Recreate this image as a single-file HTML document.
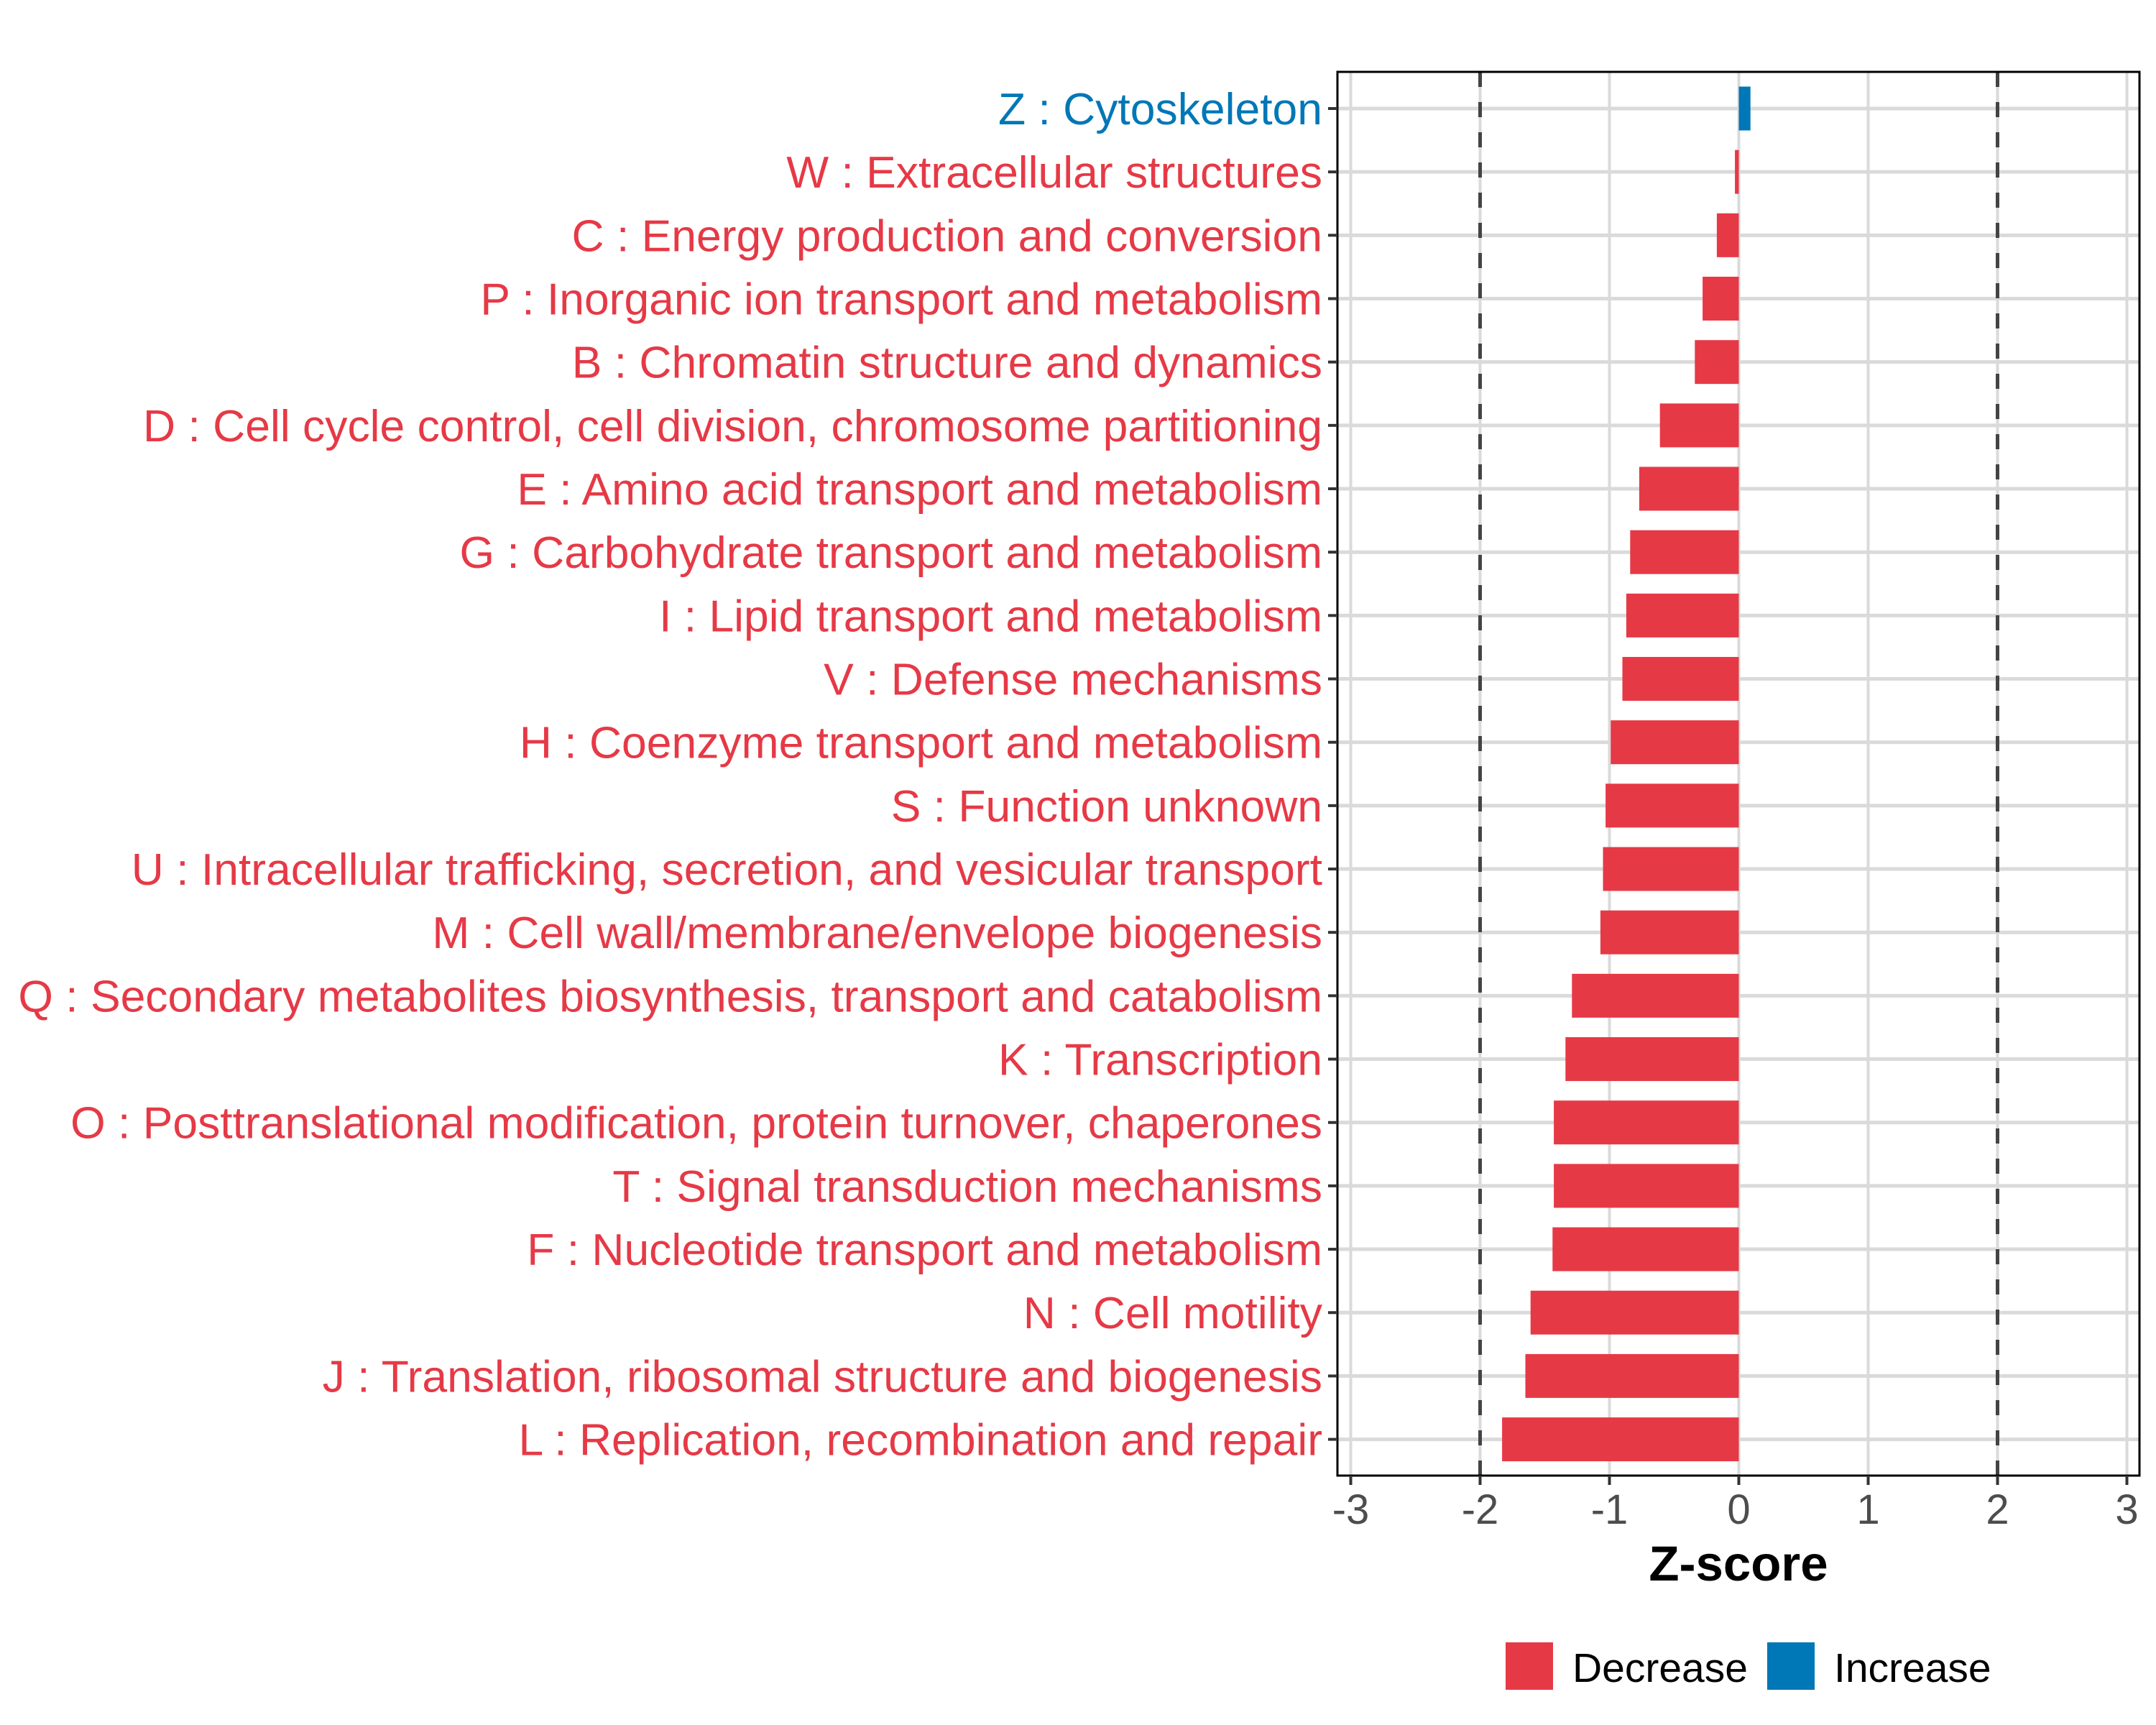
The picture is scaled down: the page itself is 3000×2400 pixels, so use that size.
<!DOCTYPE html>
<html><head><meta charset="utf-8"><style>
html,body{margin:0;padding:0;background:#fff;}
svg{display:block;font-family:"Liberation Sans",Arial,sans-serif;}
</style></head><body>
<svg id="chart" width="3000" height="2400" viewBox="0 0 3000 2400" xmlns="http://www.w3.org/2000/svg"></svg>
<script>
const categories = [
"Z : Cytoskeleton",
"W : Extracellular structures",
"C : Energy production and conversion",
"P : Inorganic ion transport and metabolism",
"B : Chromatin structure and dynamics",
"D : Cell cycle control, cell division, chromosome partitioning",
"E : Amino acid transport and metabolism",
"G : Carbohydrate transport and metabolism",
"I : Lipid transport and metabolism",
"V : Defense mechanisms",
"H : Coenzyme transport and metabolism",
"S : Function unknown",
"U : Intracellular trafficking, secretion, and vesicular transport",
"M : Cell wall/membrane/envelope biogenesis",
"Q : Secondary metabolites biosynthesis, transport and catabolism",
"K : Transcription",
"O : Posttranslational modification, protein turnover, chaperones",
"T : Signal transduction mechanisms",
"F : Nucleotide transport and metabolism",
"N : Cell motility",
"J : Translation, ribosomal structure and biogenesis",
"L : Replication, recombination and repair"
];
const zscores = [0.09,-0.03,-0.17,-0.28,-0.34,-0.61,-0.77,-0.84,-0.87,-0.90,-0.99,-1.03,-1.05,-1.07,-1.29,-1.34,-1.43,-1.43,-1.44,-1.61,-1.65,-1.83];
const xTicks = [-3,-2,-1,0,1,2,3];
const xTickLabels = ["-3","-2","-1","0","1","2","3"];
const thresholds = [-2,2];

const RED="#E63946", BLUE="#0077B6";
const svg=document.getElementById('chart');
const NS="http://www.w3.org/2000/svg";
const P={l:1861,r:2977,t:100,b:2053};
const x=v=>2419.5+v*180;
const y=i=>151+i*88.17;
function mk(tag,attrs,parent){const e=document.createElementNS(NS,tag);for(const k in attrs)e.setAttribute(k,attrs[k]);(parent||svg).appendChild(e);return e;}

const grid=mk('g',{});


xTicks.forEach(t=>{const l=mk('line',{x1:x(t),x2:x(t),y1:P.t,y2:P.b,stroke:'#dadada','stroke-width':4},grid);

});
categories.forEach((c,i)=>{const l=mk('line',{x1:P.l,x2:P.r,y1:y(i),y2:y(i),stroke:'#dadada','stroke-width':5},grid);

});

thresholds.forEach(t=>{const l=mk('line',{x1:x(t),x2:x(t),y1:P.t,y2:P.b,stroke:'#444','stroke-width':5,'stroke-dasharray':'21 21'});

});

zscores.forEach((v,i)=>{const x0=Math.min(x(0),x(v)),w=Math.abs(x(v)-x(0));
const r=mk('rect',{x:x0,y:y(i)-30.5,width:w,height:61,fill:v>=0?BLUE:RED});

});

const frame=mk('rect',{x:P.l,y:P.t,width:P.r-P.l,height:P.b-P.t,fill:'none',stroke:'#000','stroke-width':3});



let fs=60;
const labels=[];
categories.forEach((c,i)=>{
 mk('line',{x1:1848,x2:1861,y1:y(i),y2:y(i),stroke:'#333','stroke-width':4});
 const t=mk('text',{x:1840,y:y(i)+22,'text-anchor':'end','font-size':fs,fill:zscores[i]>=0?BLUE:RED});
 t.textContent=c;
 
 
 labels.push(t);
});
try{const q=labels[14].getComputedTextLength();if(q>0){const nf=fs*1815/q;labels.forEach(t=>t.setAttribute('font-size',nf.toFixed(2)));}}catch(e){}

xTicks.forEach((t,i)=>{
 mk('line',{x1:x(t),x2:x(t),y1:P.b,y2:P.b+13,stroke:'#333','stroke-width':4});
 const tl=mk('text',{x:x(t),y:2120,'text-anchor':'middle','font-size':58,fill:'#4d4d4d'});
 tl.textContent=xTickLabels[i];
 
 
});
const xt=mk('text',{x:2419,y:2199,'text-anchor':'middle','font-size':69,'font-weight':'bold',fill:'#000'});
xt.textContent='Z-score';



const lg=mk('g',{});


const k1=mk('rect',{x:2095,y:2285,width:66,height:66,fill:RED},lg);


const t1=mk('text',{x:2188,y:2340,'font-size':57,fill:'#000'},lg);t1.textContent='Decrease';


const k2=mk('rect',{x:2459,y:2285,width:66,height:66,fill:BLUE},lg);


const t2=mk('text',{x:2552,y:2340,'font-size':57,fill:'#000'},lg);t2.textContent='Increase';


</script>
</body></html>
